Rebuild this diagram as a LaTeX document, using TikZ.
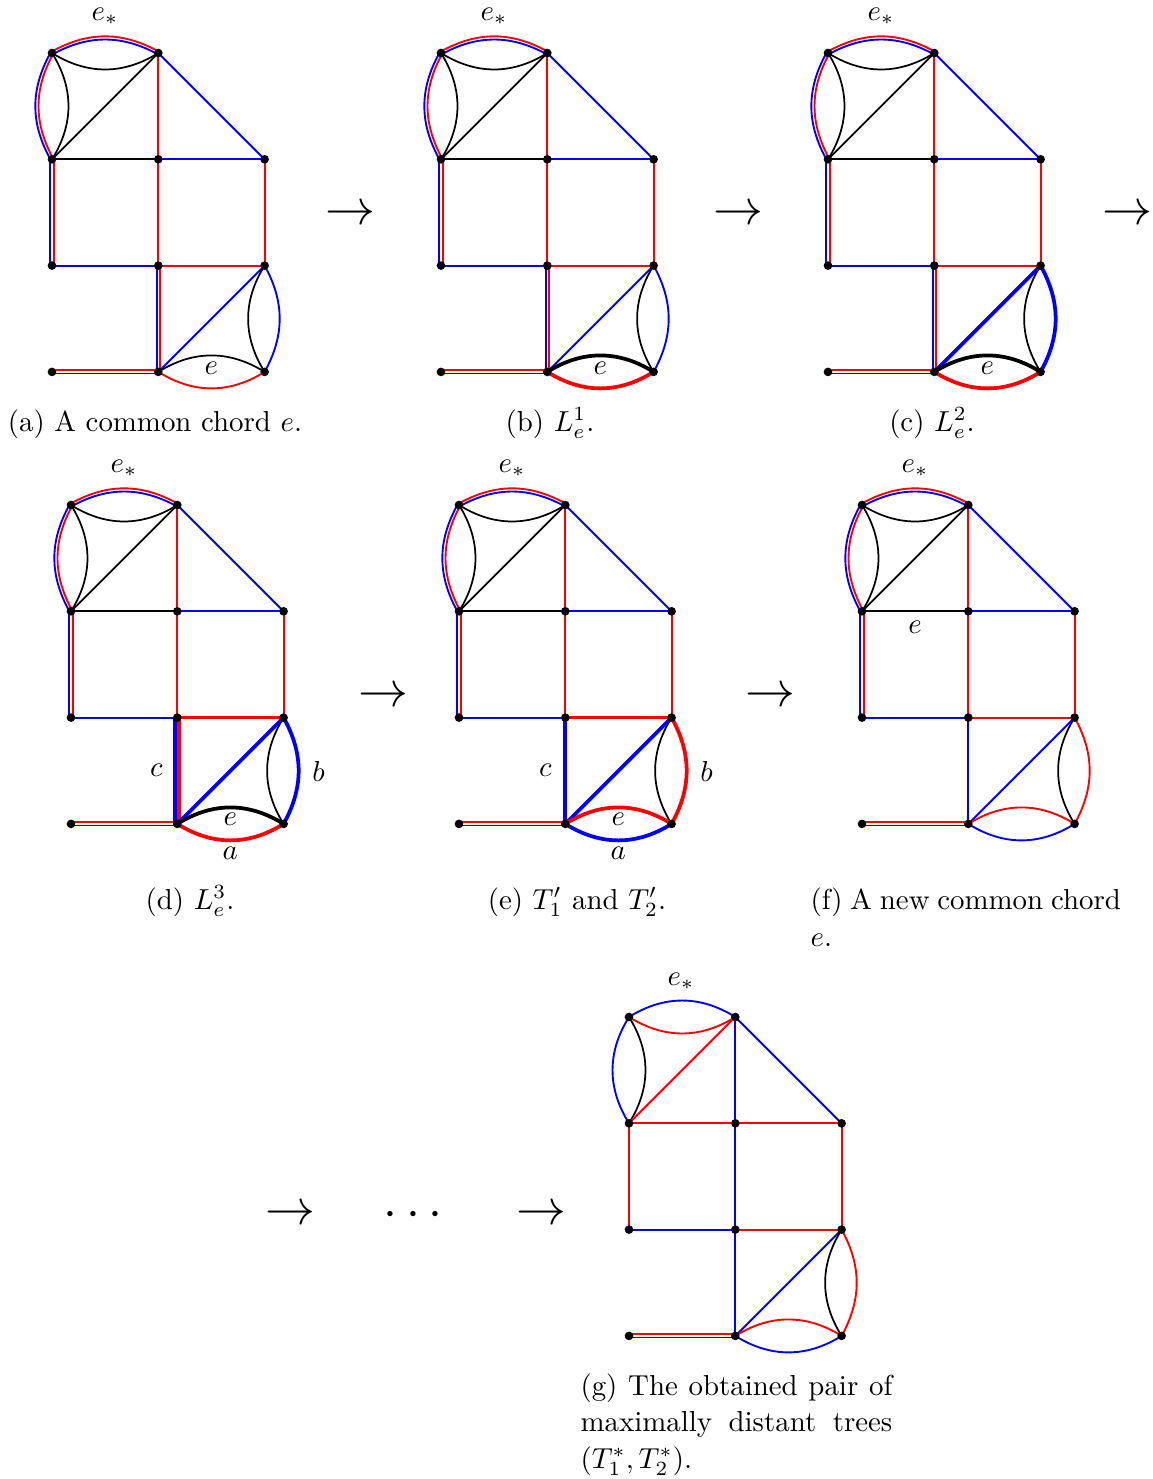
\documentclass[tikz,border=0pt]{standalone}

% 一个面板的 11 个顶点：#1 前缀，#2,#3 为左上顶点（像素，y 向下）
\newcommand{\gridat}[3]{%
  \foreach \n/\p/\q in {A/0/0,B/1/0,C/0/1,D/1/1,E/2/1,F/0/2,G/1/2,H/2/2,I/0/3,J/1/3,K/2/3}
    \coordinate (#1\n) at ({#2+106.3*\p},{-#3-106.3*\q});%
}
\newcommand{\dotsof}[1]{%
  \foreach \n in {A,B,C,D,E,F,G,H,I,J,K} \fill (#1\n) circle (1.5pt);%
}
% (a)--(f) 共有的边
\newcommand{\shared}[1]{%
  \draw[rr] ([yshift=0.55pt]#1A) to[bend left=29] ([yshift=0.55pt]#1B);
  \draw[bb] ([yshift=-0.55pt]#1A) to[bend left=29] ([yshift=-0.55pt]#1B);
  \draw[kk] (#1A) to[bend right=32] (#1B);
  \draw[bb] ([xshift=-0.55pt]#1A) to[bend right=29] ([xshift=-0.55pt]#1C);
  \draw[rr] ([xshift=0.55pt]#1A) to[bend right=29] ([xshift=0.55pt]#1C);
  \draw[kk] (#1A) to[bend left=32] (#1C);
  \draw[kk] (#1B) -- (#1C);
  \draw[rr] (#1B) -- (#1D);
  \draw[bb] (#1B) -- (#1E);
  \draw[kk] (#1C) -- (#1D);
  \draw[bb] (#1D) -- (#1E);
  \draw[bb] ([xshift=-0.55pt]#1C) -- ([xshift=-0.55pt]#1F);
  \draw[rr] ([xshift=0.55pt]#1C) -- ([xshift=0.55pt]#1F);
  \draw[rr] (#1D) -- (#1G);
  \draw[rr] (#1E) -- (#1H);
  \draw[bb] (#1F) -- (#1G);
  \draw[rr] ([yshift=0.55pt]#1I) -- ([yshift=0.55pt]#1J);
  \draw[bb] ([yshift=-0.55pt]#1I) -- ([yshift=-0.55pt]#1J);
  \draw[kk] (#1H) to[bend right=32] (#1K);
  \node[anchor=base] (#1star) at ([shift={(53,33)}]#1A) {$e_*$};%
}

\begin{document}
\begin{tikzpicture}[x=0.3464pt, y=0.3464pt, line join=round,
  rr/.style={draw={rgb,255:red,255;green,0;blue,0}, line width=0.65pt},
  bb/.style={draw={rgb,255:red,0;green,0;blue,255}, line width=0.65pt},
  kk/.style={draw=black, line width=0.6pt},
  thk/.style={line width=1.3pt},
  subcap/.style={inner sep=0pt, anchor=base},
  subcapl/.style={inner sep=0pt, anchor=base west},
  arr/.style={font=\LARGE}]

  %% ════ (a) 公共弦 e ════
  \gridat{a}{52}{53}
  \shared{a}
  \draw[rr] (aG) -- (aH);
  \draw[bb] ([xshift=-0.55pt]aG) -- ([xshift=-0.55pt]aJ);
  \draw[rr] ([xshift=0.55pt]aG) -- ([xshift=0.55pt]aJ);
  \draw[bb] (aH) -- (aJ);
  \draw[bb] (aH) to[bend left=29] (aK);
  \draw[kk] (aJ) to[bend left=32] (aK);
  \draw[rr] (aJ) to[bend right=32] (aK);
  \node (ae) at ([shift={(53,4)}]aJ) {$e$};
  \dotsof{a}
  \node[subcap] (capa) at (155,-431) {(a) A common chord $e$.};

  %% ════ (b) L_e^1 ════
  \gridat{b}{441}{53}
  \shared{b}
  \draw[rr] (bG) -- (bH);
  \draw[bb] ([xshift=-0.55pt]bG) -- ([xshift=-0.55pt]bJ);
  \draw[rr] ([xshift=0.55pt]bG) -- ([xshift=0.55pt]bJ);
  \draw[bb] (bH) -- (bJ);
  \draw[bb] (bH) to[bend left=29] (bK);
  \draw[kk,thk] (bJ) to[bend left=32] (bK);
  \draw[rr,thk] (bJ) to[bend right=32] (bK);
  \node (be) at ([shift={(53,4)}]bJ) {$e$};
  \dotsof{b}
  \node[subcap] (capb) at (550,-431) {(b) $L_e^1$.};

  %% ════ (c) L_e^2 ════
  \gridat{c}{828}{53}
  \shared{c}
  \draw[rr] (cG) -- (cH);
  \draw[bb] ([xshift=-0.55pt]cG) -- ([xshift=-0.55pt]cJ);
  \draw[rr] ([xshift=0.55pt]cG) -- ([xshift=0.55pt]cJ);
  \draw[bb,thk] (cH) -- (cJ);
  \draw[bb,thk] (cH) to[bend left=29] (cK);
  \draw[kk,thk] (cJ) to[bend left=32] (cK);
  \draw[rr,thk] (cJ) to[bend right=32] (cK);
  \node (ce) at ([shift={(53,4)}]cJ) {$e$};
  \dotsof{c}
  \node[subcap] (capc) at (932,-431) {(c) $L_e^2$.};

  %% ════ (d) L_e^3 ════
  \gridat{d}{71}{505}
  \shared{d}
  \draw[rr,thk] (dG) -- (dH);
  \draw[bb,thk] ([xshift=-0.68pt]dG) -- ([xshift=-0.68pt]dJ);
  \draw[rr,thk] ([xshift=0.68pt]dG) -- ([xshift=0.68pt]dJ);
  \draw[bb,thk] (dH) -- (dJ);
  \draw[bb,thk] (dH) to[bend left=29] (dK);
  \draw[kk,thk] (dJ) to[bend left=32] (dK);
  \draw[rr,thk] (dJ) to[bend right=32] (dK);
  \node (de) at ([shift={(53,5)}]dJ) {$e$};
  \node (da) at ([shift={(53,-29)}]dJ) {$a$};
  \node (db) at ([shift={(35,-54)}]dH) {$b$};
  \node (dc) at ([shift={(-21,-53)}]dG) {$c$};
  \dotsof{d}
  \node[subcap] (capd) at (190,-909) {(d) $L_e^3$.};

  %% ════ (e) T_1' 与 T_2' ════
  \gridat{e}{459}{505}
  \shared{e}
  \draw[rr,thk] (eG) -- (eH);
  \draw[bb,thk] (eG) -- (eJ);
  \draw[bb,thk] (eH) -- (eJ);
  \draw[rr,thk] (eH) to[bend left=29] (eK);
  \draw[rr,thk] (eJ) to[bend left=32] (eK);
  \draw[bb,thk] (eJ) to[bend right=32] (eK);
  \node (ee) at ([shift={(53,5)}]eJ) {$e$};
  \node (ea) at ([shift={(53,-29)}]eJ) {$a$};
  \node (eb) at ([shift={(35,-54)}]eH) {$b$};
  \node (ec) at ([shift={(-20,-53)}]eG) {$c$};
  \dotsof{e}
  \node[subcap] (cape) at (577,-909) {(e) $T_1'$ and $T_2'$.};

  %% ════ (f) 新的公共弦 ════
  \gridat{f}{862}{505}
  \shared{f}
  \draw[rr] (fG) -- (fH);
  \draw[bb] (fG) -- (fJ);
  \draw[bb] (fH) -- (fJ);
  \draw[rr] (fH) to[bend left=29] (fK);
  \draw[rr] (fJ) to[bend left=32] (fK);
  \draw[bb] (fJ) to[bend right=32] (fK);
  \node (fe) at ([shift={(53,-16)}]fC) {$e$};
  \dotsof{f}
  \node[subcapl] (capf1) at (810,-909) {\makebox[107.5pt][s]{(f) A new common chord}};
  \node[subcapl] (capf2) at (810,-946) {$e$.};

  %% ════ (g) 最终的树对 ════
  \gridat{g}{629}{1017}
  \draw[bb] (gA) to[bend left=32] (gB);
  \draw[rr] (gA) to[bend right=32] (gB);
  \draw[bb] (gA) to[bend right=32] (gC);
  \draw[kk] (gA) to[bend left=32] (gC);
  \draw[rr] (gB) -- (gC);
  \draw[bb] (gB) -- (gD);
  \draw[bb] (gB) -- (gE);
  \draw[rr] (gC) -- (gD);
  \draw[rr] (gD) -- (gE);
  \draw[rr] (gC) -- (gF);
  \draw[bb] (gD) -- (gG);
  \draw[rr] (gE) -- (gH);
  \draw[bb] (gF) -- (gG);
  \draw[rr] (gG) -- (gH);
  \draw[bb] (gG) -- (gJ);
  \draw[bb] (gH) -- (gJ);
  \draw[kk] (gH) to[bend right=32] (gK);
  \draw[rr] (gH) to[bend left=29] (gK);
  \draw[rr] (gJ) to[bend left=32] (gK);
  \draw[bb] (gJ) to[bend right=32] (gK);
  \draw[rr] ([yshift=0.55pt]gI) -- ([yshift=0.55pt]gJ);
  \draw[bb] ([yshift=-0.55pt]gI) -- ([yshift=-0.55pt]gJ);
  \node[anchor=base] (gstar) at ([shift={(52,32)}]gA) {$e_*$};
  \dotsof{g}
  \node[subcapl] (capg1) at (580,-1395) {\makebox[108pt][s]{(g) The obtained pair of}};
  \node[subcapl] (capg2) at (580,-1431) {\makebox[108pt][s]{maximally distant trees}};
  \node[subcapl] (capg3) at (580,-1468) {$(T_1^*,T_2^*)$.};

  %% ════ 箭头 ════
  \node[arr] (ar1) at (350,-215) {$\rightarrow$};
  \node[arr] (ar2) at (738,-215) {$\rightarrow$};
  \node[arr] (ar3) at (1127,-215) {$\rightarrow$};
  \node[arr] (ar4) at (383,-697) {$\rightarrow$};
  \node[arr] (ar5) at (770,-697) {$\rightarrow$};
  \node[arr] (ar6) at (290,-1215) {$\rightarrow$};
  \node[arr] (dd) at (413,-1215) {$\cdots$};
  \node[arr] (ar7) at (541,-1215) {$\rightarrow$};

  % 钉死画布
  \pgfresetboundingbox
  \path[use as bounding box] (0,0) rectangle (1153,-1479);
\end{tikzpicture}
\end{document}
